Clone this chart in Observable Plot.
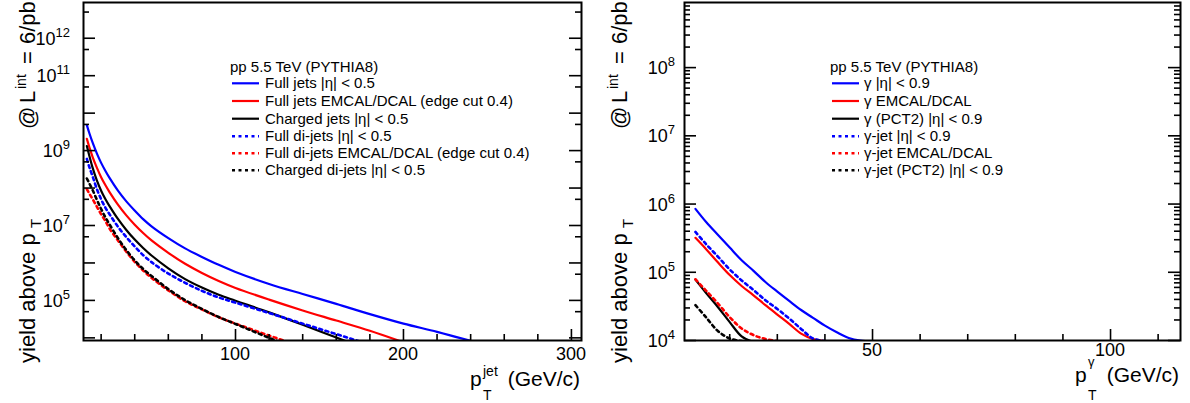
<!DOCTYPE html>
<html><head><meta charset="utf-8">
<script src="https://cdn.jsdelivr.net/npm/d3@7"></script>
<script src="https://cdn.jsdelivr.net/npm/@observablehq/plot@0.6"></script>
<style>
html,body{margin:0;padding:0;background:#fff;width:1190px;height:403px;overflow:hidden}
.panel{position:absolute;top:0}
#left{left:0}#right{left:595px}
</style></head><body>
<div id="left" class="panel"></div><div id="right" class="panel"></div>
<script>
// ---------- Left panel data (jets) ----------
const jetPt = [11.5,13,15,17.5,20,22.5,25,30,35,40,45,50,60,70,80,90,100,120,140,160,180,200,220,240];
const fullJets        = [4.8e9,2.9e9,1.6e9,8.3e8,4.7e8,2.9e8,1.86e8,8.5e7,4.4e7,2.5e7,1.48e7,9.5e6,4.6e6,2.45e6,1.45e6,8.9e5,5.75e5,2.75e5,1.48e5,8.1e4,4.3e4,2.4e4,1.45e4,8.3e3];
const fullJetsEmcal   = [2.05e9,1.23e9,6.6e8,3.47e8,1.95e8,1.2e8,7.8e7,3.6e7,1.86e7,1.05e7,6.3e6,4e6,1.86e6,9.5e5,5.4e5,3.3e5,2.15e5,1.05e5,5.4e4,2.9e4,1.55e4,7.6e3];
const chargedJets     = [1.32e9,7.2e8,3.4e8,1.58e8,8.5e7,5.1e7,3.3e7,1.5e7,7.6e6,4.2e6,2.5e6,1.58e6,7.2e5,3.7e5,2.2e5,1.41e5,9.8e4,4.8e4,2.24e4,1.02e4,4.7e3];
const fullDijets      = [6e8,3.6e8,2e8,9.3e7,5e7,3e7,2e7,9.3e6,4.9e6,2.75e6,1.62e6,1.05e6,5.2e5,2.95e5,1.8e5,1.2e5,8.7e4,4.6e4,2.4e4,1.26e4,6.6e3];
const fullDijetsEmcal = [9.3e7,7.1e7,5e7,3.16e7,2e7,1.32e7,8.3e6,4e6,2e6,1.07e6,6.3e5,4e5,1.86e5,9.5e4,5.75e4,3.55e4,2.4e4,1.15e4,5.75e3];
const chargedDijets   = [1.8e8,1.32e8,8.7e7,4.8e7,2.75e7,1.66e7,1.07e7,4.6e6,2.2e6,1.17e6,6.9e5,4.5e5,2e5,1.02e5,5.9e4,3.6e4,2.35e4,1e4,4.5e3];
const leftLabels = ["Full jets |η| < 0.5","Full jets EMCAL/DCAL (edge cut 0.4)","Charged jets |η| < 0.5","Full di-jets |η| < 0.5","Full di-jets EMCAL/DCAL (edge cut 0.4)","Charged di-jets |η| < 0.5"];

// ---------- Right panel data (photons) ----------
const gammaPt = [12.8,15,17.5,20,22.5,25,27.5,30,32.5,35,37.5,40,42.5,45,47.5,50];
const gammaAll      = [8.5e5,5.5e5,3.55e5,2.3e5,1.5e5,1.05e5,7.2e4,5.2e4,3.8e4,2.8e4,2.15e4,1.65e4,1.32e4,1.09e4,9.95e3,9.7e3];
const gammaEmcal    = [3.2e5,2.2e5,1.4e5,9.1e4,6.3e4,4.6e4,3.3e4,2.4e4,1.75e4,1.26e4,1.05e4,9.8e3];
const gammaPct2     = [7.8e4,5e4,3.1e4,1.86e4,1.15e4,9.5e3];
const gammaJetAll   = [3.9e5,2.6e5,1.7e5,1.1e5,7.6e4,5.5e4,3.9e4,2.9e4,2.1e4,1.48e4,1.07e4,9.8e3];
const gammaJetEmcal = [7.9e4,5.4e4,3.5e4,2.2e4,1.5e4,1.2e4,1.05e4,9.8e3];
const gammaJetPct2  = [3.3e4,2.2e4,1.38e4,1.07e4,9.8e3];
const rightLabels = ["γ |η| < 0.9","γ EMCAL/DCAL","γ (PCT2) |η| < 0.9","γ-jet |η| < 0.9","γ-jet EMCAL/DCAL","γ-jet (PCT2) |η| < 0.9"];

const legendTitle = "pp 5.5 TeV (PYTHIA8)";
const colors = ["#0000ff","#ff0000","#000000","#0000ff","#ff0000","#000000"];
const dashed = [false,false,false,true,true,true];

// ---------- Axis ticks ----------
const leftXMajor = [100,200,300];
const leftXMinor = [20,40,60,80,120,140,160,180,220,240,260,280];
const leftYMajor = [1e4,1e5,1e6,1e7,1e8,1e9,1e10,1e11,1e12];
const leftYMinor = [5e4,5e5,5e6,5e7,5e8,5e9,5e10,5e11,5e12];
const leftYLabels = [1e5,1e7,1e9,1e11,1e12];
const rightXMajor = [50,100];
const rightXMinor = [20,30,40,60,70,80,90,110];
const rightYMajor = [1e4,1e5,1e6,1e7,1e8];
const rightYMinor = [2e4,3e4,4e4,5e4,6e4,7e4,8e4,9e4,2e5,3e5,4e5,5e5,6e5,7e5,8e5,9e5,2e6,3e6,4e6,5e6,6e6,7e6,8e6,9e6,2e7,3e7,4e7,5e7,6e7,7e7,8e7,9e7,2e8,3e8,4e8,5e8,6e8,7e8,8e8];
const rightYLabels = [1e4,1e5,1e6,1e7,1e8];

const FONT = '"Liberation Sans", Arial, Helvetica, sans-serif';

function buildPanel(cfg) {
  const W = 595, H = 403;
  const innerW = W - cfg.ml - cfg.mr, innerH = H - cfg.mt - cfg.mb;
  const marks = [];
  cfg.series.forEach((vals, k) => {
    const data = vals.map((v, i) => ({x: cfg.grid[i], y: v}));
    marks.push(Plot.line(data, {x: "x", y: "y", stroke: colors[k], strokeWidth: dashed[k] ? 2.6 : 2.2,
      strokeDasharray: dashed[k] ? "3,3.5" : null, curve: "catmull-rom", clip: true}));
  });
  const tk = {stroke: "black", strokeWidth: 1.6};
  marks.push(Plot.tickX(cfg.xMajor, {x: d => d, insetTop: innerH - 11, ...tk}));
  marks.push(Plot.tickX(cfg.xMinor, {x: d => d, insetTop: innerH - 6, ...tk}));
  marks.push(Plot.tickY(cfg.yMajor, {y: d => d, insetRight: innerW - 12, ...tk}));
  marks.push(Plot.tickY(cfg.yMinor, {y: d => d, insetRight: innerW - 6, ...tk}));
  marks.push(Plot.tickY(cfg.yMajor, {y: d => d, insetLeft: innerW - 12, ...tk}));
  marks.push(Plot.tickY(cfg.yMinor, {y: d => d, insetLeft: innerW - 6, ...tk}));
  marks.push(Plot.frame({stroke: "black", strokeWidth: 2}));
  const svg = Plot.plot({
    width: W, height: H,
    marginLeft: cfg.ml, marginRight: cfg.mr, marginTop: cfg.mt, marginBottom: cfg.mb,
    x: {type: "linear", domain: cfg.xDomain, axis: null},
    y: {type: "log", domain: cfg.yDomain, axis: null},
    style: {background: "white", overflow: "visible"},
    marks
  });
  const sx = svg.scale("x"), sy = svg.scale("y");
  const g = d3.select(svg).append("g").attr("font-family", FONT).attr("fill", "black")
    .attr("text-anchor", "start");

  // y tick labels 10^n
  cfg.yLabels.forEach(v => {
    const y = sy.apply(v);
    const t = g.append("text").attr("x", cfg.ml - cfg.yLabGap).attr("y", y + 7)
      .attr("text-anchor", "end").attr("font-size", cfg.tickFont);
    t.append("tspan").text("10");
    t.append("tspan").attr("dy", -8).attr("font-size", 13).text(String(Math.round(Math.log10(v))));
  });
  // x tick labels
  cfg.xLabels.forEach(v => {
    g.append("text").attr("x", sx.apply(v)).attr("y", cfg.xLabY).attr("text-anchor", "middle")
      .attr("font-size", cfg.tickFont).text(String(v));
  });
  // x axis title
  const xt = cfg.xTitle;
  g.append("text").attr("x", xt.px).attr("y", xt.base).attr("font-size", 21).text("p");
  g.append("text").attr("x", xt.px + 13).attr("y", xt.supBase).attr("font-size", xt.supSize).text(xt.sup);
  g.append("text").attr("x", xt.px + 13).attr("y", 400).attr("font-size", 14).text("T");
  g.append("text").attr("x", W - cfg.mr - 1).attr("y", xt.base).attr("text-anchor", "end").attr("font-size", 21).text("(GeV/c)");

  // y axis title (rotated)
  const yt = g.append("g").attr("transform", `translate(${cfg.yTitleX},0) rotate(-90)`);
  const piece = (txt, u, v, fs) => yt.append("text").attr("x", u).attr("y", v).attr("font-size", fs).text(txt);
  piece("yield above p", -363, 0, 22);
  piece("T", -228, 6, 15);
  piece("@", -129, 0, 22);
  piece("L", -103, 0, 22);
  piece("int", -89, -9, 14);
  piece("=", -64, 0, 22);
  piece("6/pb", -44, 0, 22);

  // legend
  const L = cfg.legend;
  g.append("text").attr("x", L.titleX).attr("y", 72).attr("font-size", 15).text(legendTitle);
  const rows = [83.3, 101, 118.7, 136.3, 153.3, 170.3];
  cfg.labels.forEach((lab, k) => {
    g.append("line").attr("x1", L.lx1).attr("x2", L.lx2).attr("y1", rows[k]).attr("y2", rows[k])
      .attr("stroke", colors[k]).attr("stroke-width", dashed[k] ? 2.6 : 2.2).attr("stroke-dasharray", dashed[k] ? "3,3.5" : null);
    g.append("text").attr("x", L.tx).attr("y", rows[k] + 5).attr("font-size", 15).text(lab);
  });
  return svg;
}

document.getElementById("left").appendChild(buildPanel({
  ml: 83, mr: 14, mt: 2, mb: 63,
  xDomain: [9.5, 306], yDomain: [8.5e3, 9e12],
  grid: jetPt,
  series: [fullJets, fullJetsEmcal, chargedJets, fullDijets, fullDijetsEmcal, chargedDijets],
  labels: leftLabels,
  xMajor: leftXMajor, xMinor: leftXMinor, yMajor: leftYMajor, yMinor: leftYMinor,
  yLabels: leftYLabels, xLabels: leftXMajor,
  yLabGap: 13, tickFont: 18, xLabY: 360,
  xTitle: {px: 470, base: 386, sup: "jet", supBase: 376, supSize: 14},
  yTitleX: 35,
  legend: {titleX: 230, lx1: 232, lx2: 259, tx: 265}
}));

document.getElementById("right").appendChild(buildPanel({
  ml: 89, mr: 10, mt: 2, mb: 63,
  xDomain: [10.5, 114.7], yDomain: [1e4, 9e8],
  grid: gammaPt,
  series: [gammaAll, gammaEmcal, gammaPct2, gammaJetAll, gammaJetEmcal, gammaJetPct2],
  labels: rightLabels,
  xMajor: rightXMajor, xMinor: rightXMinor, yMajor: rightYMajor, yMinor: rightYMinor,
  yLabels: rightYLabels, xLabels: rightXMajor,
  yLabGap: 9, tickFont: 18, xLabY: 356,
  xTitle: {px: 480, base: 382, sup: "γ", supBase: 366, supSize: 13},
  yTitleX: 32,
  legend: {titleX: 235, lx1: 237, lx2: 264, tx: 269}
}));
</script>
</body></html>
